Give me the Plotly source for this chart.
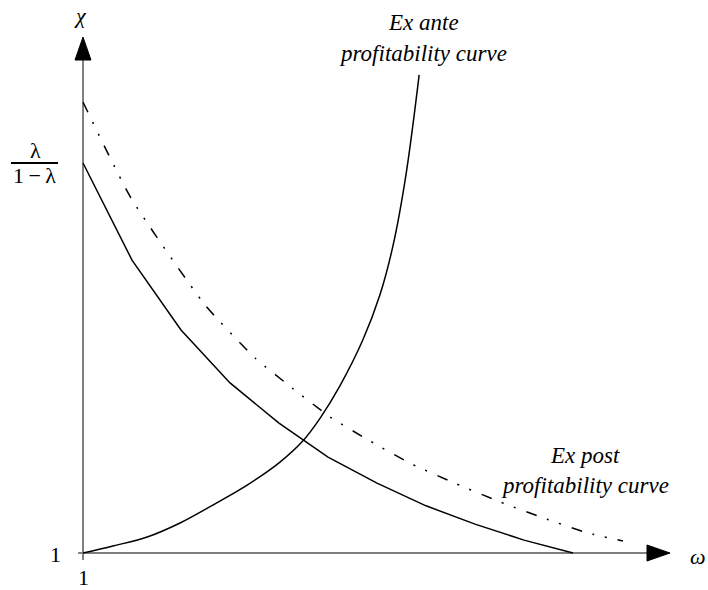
import plotly.graph_objects as go

# Data (conceptual units: origin at omega=1, chi=1)
expost_lower_omega = [1, 2, 3, 4, 5, 6, 7, 8, 9, 10, 11]
expost_lower_chi = [11.0, 8.51, 6.72, 5.36, 4.33, 3.46, 2.79, 2.21, 1.74, 1.33, 1.0]

exante_omega = [1.00, 1.61, 2.31, 2.98, 3.65, 4.35, 5.02, 5.47, 5.84, 6.24, 6.71, 7.06, 7.33, 7.59, 7.86]
exante_chi = [1.00, 1.18, 1.41, 1.77, 2.23, 2.74, 3.33, 3.85, 4.46, 5.28, 6.46, 7.62, 8.90, 10.69, 13.26]

expost_upper_omega = [1.00, 1.98, 3.49, 4.51, 5.27, 6.04, 6.86, 7.71, 8.59, 9.51, 10.39, 11.31, 12.02]
expost_upper_chi = [12.56, 10.10, 7.36, 6.00, 5.23, 4.49, 3.87, 3.28, 2.79, 2.31, 1.90, 1.51, 1.31]

FONT = "'Liberation Serif', 'Times New Roman', 'DejaVu Serif', serif"
AX = "#7f7f7f"

fig = go.Figure()
fig.add_trace(go.Scatter(x=expost_lower_omega, y=expost_lower_chi, mode="lines",
                         line=dict(color="black", width=1.5), hoverinfo="skip"))
fig.add_trace(go.Scatter(x=exante_omega, y=exante_chi, mode="lines",
                         line=dict(color="black", width=1.5, shape="spline", smoothing=1.0),
                         hoverinfo="skip"))
fig.add_trace(go.Scatter(x=expost_upper_omega, y=expost_upper_chi, mode="lines",
                         line=dict(color="black", width=1.5, shape="spline", smoothing=0.5,
                                   dash="11px,11px,2px,11px,2px,11px"),
                         hoverinfo="skip"))

shapes = [
    # axes
    dict(type="line", x0=1, x1=1, y0=0.82, y1=13.7, line=dict(color=AX, width=2), layer="below"),
    dict(type="line", x0=0.9, x1=12.55, y0=1, y1=1, line=dict(color=AX, width=2), layer="below"),
    # arrowheads
    dict(type="path", path="M 1 14.23 L 0.837 13.64 L 1.163 13.64 Z",
         fillcolor="black", line=dict(color="black", width=1)),
    dict(type="path", path="M 12.98 1 L 12.51 0.795 L 12.51 1.205 Z",
         fillcolor="black", line=dict(color="black", width=1)),
    # fraction bar
    dict(type="line", x0=-0.47, x1=0.49, y0=11.0, y1=11.0, line=dict(color="black", width=2)),
]

def ann(x, y, text, size=22):
    return dict(x=x, y=y, xref="x", yref="y", text=text, showarrow=False,
                font=dict(family=FONT, size=size, color="black"),
                xanchor="center", yanchor="middle", align="center")

annotations = [
    ann(0.94, 14.79, "<i>χ</i>"),
    ann(13.55, 0.90, "<i>ω</i>"),
    ann(0.43, 0.95, "1"),
    ann(1.0, 0.36, "1"),
    ann(0.04, 11.33, "λ"),
    ann(0.02, 10.67, "1\u2009−\u2009λ"),
    ann(7.94, 14.59, "<i>Ex ante</i>", 23),
    ann(7.94, 13.82, "<i>profitability curve</i>", 23),
    ann(11.24, 3.51, "<i>Ex post</i>", 23),
    ann(11.24, 2.74, "<i>profitability curve</i>", 23),
]

fig.update_layout(
    width=708, height=590,
    margin=dict(l=0, r=0, t=0, b=0),
    paper_bgcolor="white", plot_bgcolor="white",
    showlegend=False,
    font=dict(family=FONT),
    xaxis=dict(range=[-0.694, 13.755], visible=False, fixedrange=True),
    yaxis=dict(range=[0.0513, 15.179], visible=False, fixedrange=True),
    shapes=shapes,
    annotations=annotations,
)

fig.write_html("out.html",
               config={"displayModeBar": False},
               post_script="document.body.style.margin='0';document.body.style.padding='0';"
                           "document.body.style.overflow='hidden';")
